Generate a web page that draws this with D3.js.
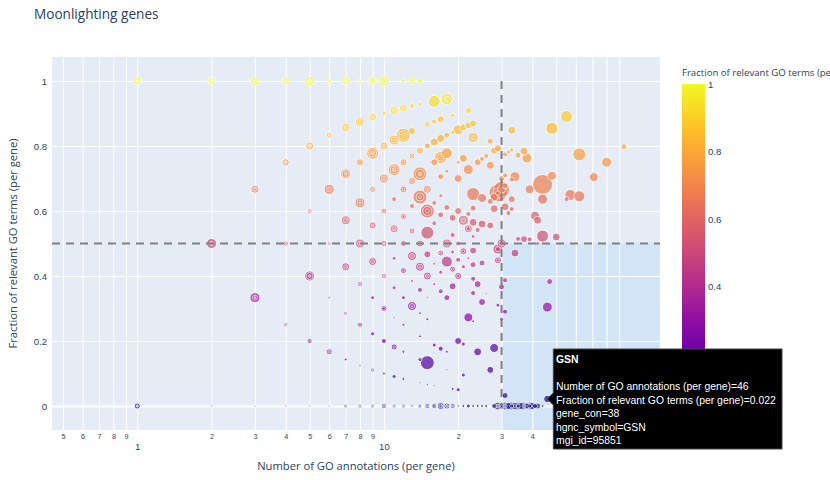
<!DOCTYPE html>
<html>
<head>
<meta charset="utf-8">
<script src="https://cdn.jsdelivr.net/npm/d3@7"></script>
<style>
    body { margin: 0; background: #fff; }
    svg { display: block; font-family: "Open Sans", verdana, arial, sans-serif; }
</style>
</head>
<body>
<svg id="chart"></svg>
<script>
// genes as [GO annotations, relevant GO terms, gene_con]
const topRow = [
    [1,1,43],[1,1,11],[1,1,3],[1,1,1],
    [2,2,43],[2,2,17],[2,2,4],[2,2,1],
    [3,3,55],[3,3,24],[3,3,6],[3,3,1],
    [4,4,43],[4,4,17],[4,4,4],[4,4,1],
    [5,5,55],[5,5,17],[5,5,4],[5,5,1],
    [6,6,24],[6,6,6],[6,6,1],
    [7,7,43],[7,7,11],[7,7,3],
    [8,8,11],[8,8,3],
    [9,9,43],[9,9,17],[9,9,4],
    [10,10,68],[10,10,24],[10,10,6],
    [12,12,11],
    [13,13,33],[13,13,6],
    [14,14,17]
];

const zeroRow = [
    [1,0,24],[1,0,3],[1,0,2],[1,0,1],
    [2,0,3],[2,0,2],[2,0,1],
    [3,0,3],[3,0,2],[3,0,1],
    [4,0,3],[4,0,2],[4,0,1],
    [5,0,3],[5,0,2],[5,0,1],
    [6,0,3],[6,0,2],[6,0,1],
    [7,0,11],[7,0,3],[7,0,1],
    [8,0,11],[8,0,3],[8,0,1],
    [9,0,11],[9,0,3],[9,0,1],
    [10,0,17],[10,0,4],[10,0,1],
    [11,0,11],[11,0,3],[11,0,1],
    [12,0,11],[12,0,3],[12,0,1],
    [13,0,6],[13,0,2],
    [14,0,11],[14,0,3],
    [15,0,17],[15,0,4],[15,0,1],
    [16,0,17],[16,0,4],
    [17,0,33],[17,0,11],[17,0,3],
    [18,0,24],[18,0,6],[18,0,2],
    [19,0,17],[19,0,4],[19,0,1],
    [20,0,4],[21,0,6],[22,0,11],[23,0,6],[24,0,6],[25,0,6],[26,0,6],
    [28,0,17],
    [29,0,43],[29,0,11],[29,0,3],
    [30,0,24],[30,0,6],
    [31,0,43],[31,0,11],[31,0,3],
    [32,0,33],
    [33,0,43],[33,0,11],
    [34,0,33],[34,0,6],
    [35,0,43],[35,0,11],
    [36,0,33],
    [37,0,43],[37,0,11],[37,0,3],
    [38,0,24],
    [39,0,43],[39,0,11],
    [40,0,33],[41,0,17],[42,0,24],[44,0,6]
];

const lowN = [
    [2,1,68],[2,1,11],[2,1,3],[2,1,1],
    [3,2,43],[3,2,11],[3,2,2],
    [3,1,68],[3,1,17],[3,1,3],[3,1,1],
    [4,3,33],[4,3,6],[4,3,2],[4,3,1],
    [4,2,17],[4,2,3],[4,2,1],
    [4,1,11],[4,1,2],[4,1,1],
    [5,4,43],[5,4,11],[5,4,3],[5,4,1],
    [5,3,17],[5,3,3],[5,3,1],
    [5,2,68],[5,2,33],[5,2,6],[5,2,2],
    [5,1,17],[5,1,3],
    [6,5,24],[6,5,4],[6,5,1],
    [6,4,68],[6,4,17],[6,4,3],
    [6,3,11],[6,3,2],[6,3,1],
    [6,2,6],[6,2,1],
    [6,1,24],[6,1,6],[6,1,1],
    [7,6,43],[7,6,11],[7,6,2],[7,6,1],
    [7,5,68],[7,5,33],[7,5,6],[7,5,2],
    [7,4,55],[7,4,17],[7,4,3],
    [7,3,43],[7,3,11],[7,3,2],
    [7,2,11],[7,2,2],[7,2,1],
    [7,1,6],
    [8,7,55],[8,7,17],[8,7,3],
    [8,6,33],[8,6,6],
    [8,5,68],[8,5,24],[8,5,4],[8,5,1],
    [8,4,55],[8,4,17],[8,4,3],[8,4,1],
    [8,3,17],[8,3,3],[8,3,1],
    [8,2,17],[8,2,3],
    [8,1,3],
    [9,8,43],[9,8,11],[9,8,2],
    [9,7,97],[9,7,43],[9,7,11],[9,7,2],
    [9,6,24],[9,6,4],[9,6,1],
    [9,5,33],[9,5,6],[9,5,1],
    [9,4,43],[9,4,11],[9,4,2],
    [9,3,11],[9,2,11],
    [9,1,11],[9,1,2],[9,1,1],
    [10,9,11],
    [10,8,43],[10,8,11],[10,8,2],
    [10,7,55],[10,7,17],[10,7,3],
    [10,6,24],[10,6,4],
    [10,5,24],[10,5,4],[10,5,1],
    [10,4,17],[10,4,3],[10,4,1],
    [10,3,24],[10,3,6],
    [10,2,17],[10,1,6]
];

const midN = [
    [11,10,43],[11,10,11],[11,10,2],
    [11,9,68],[11,9,24],[11,9,4],
    [11,8,97],[11,8,43],[11,8,11],[11,8,2],
    [11,7,17],
    [11,6,43],[11,6,11],[11,6,2],
    [11,5,11],[11,4,11],[11,3,3],
    [11,2,24],[11,2,4],
    [11,1,11],
    [12,11,43],[12,11,11],[12,11,2],
    [12,10,132],[12,10,55],[12,10,17],[12,10,3],
    [12,9,33],[12,9,6],
    [12,8,33],[12,8,6],
    [12,7,24],[12,7,4],
    [12,6,24],[12,6,4],[12,6,1],
    [12,5,24],[12,5,4],
    [12,4,11],[12,3,6],[12,2,6],[12,1,6],
    [13,12,17],[13,11,33],
    [13,10,24],[13,10,4],
    [13,9,33],[13,9,6],
    [13,8,17],
    [13,7,24],[13,7,4],
    [13,6,55],[13,6,17],[13,6,3],
    [13,5,6],
    [13,4,55],[13,4,17],[13,4,3],
    [14,13,11],
    [14,11,33],[14,11,6],
    [14,10,132],[14,10,55],[14,10,11],[14,10,2],
    [14,9,132],[14,9,43],[14,9,6],
    [14,7,33],[14,7,6],
    [14,6,55],[14,6,17],[14,6,3],
    [14,5,17],[14,4,6],[14,3,6],[14,2,11],[14,1,3],
    [15,13,24],[15,13,4],
    [15,12,24],
    [15,10,43],[15,10,11],[15,10,2],
    [15,9,132],[15,9,55],[15,9,11],
    [15,8,114],[15,7,33],
    [15,6,43],[15,6,11],[15,6,2],
    [15,5,3],[15,4,6],[15,2,132],[15,1,3],
    [16,15,97],[16,14,17],[16,13,43],[16,12,33],[16,10,17],[16,9,17],
    [16,8,6],[16,7,6],[16,6,6],[16,3,11],[16,1,3],
    [17,15,33],[17,14,43],
    [17,13,97],[17,13,33],[17,13,6],
    [17,12,24],[17,11,11],[17,10,24],
    [17,8,24],[17,8,4],
    [17,7,11],[17,6,17],[17,3,17],
    [18,17,82],[18,17,24],[18,17,4],
    [18,15,24],[18,14,82],[18,13,11],[18,11,24],
    [18,9,55],[18,9,17],[18,9,3],
    [18,8,82],[18,6,24],[18,3,6],[18,2,3],
    [19,17,11],[19,16,11],[19,11,33],[19,10,17],[19,9,11],
    [19,8,24],[19,8,4],
    [19,7,33],[19,1,6],
    [20,17,68],[20,15,11],[20,14,43],[20,12,33],[20,10,17],[20,9,17],
    [20,8,33],[20,8,6],
    [20,4,33],[20,1,11],
    [21,18,33],[21,16,43],
    [21,12,68],[21,12,17],[21,12,3],
    [21,10,33],[21,10,6],
    [21,9,11],[21,4,11],[21,2,11],
    [22,20,24],[22,19,33],[22,16,68],[22,13,17],
    [22,12,43],[22,12,11],
    [22,10,6],[22,6,55],
    [23,20,33],
    [23,19,68],[23,19,17],[23,19,3],
    [23,15,114],[23,14,24],[23,13,43],[23,12,11],[23,11,33],[23,10,24],
    [23,9,17],[23,8,17],[23,6,6],
    [24,18,33],[24,13,17],[24,9,33],[24,4,43],
    [25,21,3],[25,19,17],[25,16,55],[25,14,43],[25,11,24],[25,8,33],
    [26,20,17],[26,9,3],
    [27,22,24],[27,20,43],[27,17,24],[27,15,33],[27,3,33],
    [28,22,33],[28,18,43],[28,17,43],[28,16,3],[28,5,55],
    [29,23,33],
    [29,19,219],[29,19,68],[29,19,17],
    [29,14,68],[29,14,17],
    [29,13,33],[29,13,6],
    [29,9,11]
];

const highN = [
    [30,21,24],
    [30,20,173],[30,20,43],
    [30,15,55],[30,15,17],[30,15,3],
    [30,11,24],[30,8,11],
    [31,24,17],[31,22,17],[31,21,24],[31,19,43],[31,12,17],[31,9,17],[31,1,24],
    [32,25,11],[32,19,17],
    [33,28,43],[33,26,11],[33,23,17],[33,21,33],[33,20,17],
    [34,24,68],[34,16,43],
    [35,27,24],[35,18,17],
    [37,29,43],[37,19,33],
    [38,29,68],
    [39,26,55],[39,20,17],
    [41,24,55],
    [42,24,43],[42,21,11],
    [44,30,270],[44,28,68],[44,23,97],
    [46,14,68],[46,1,38],
    [47,18,24],
    [48,41,97],[48,34,55],
    [50,26,43],
    [55,49,97],[55,35,17],
    [57,37,82],
    [62,48,114],[62,40,82],
    [71,50,55],
    [80,60,68],
    [94,75,24]
];

const xMinorTicks = [0.5, 0.6, 0.7, 0.8, 0.9, 2, 3, 4, 5, 6, 7, 8, 9, 20, 30, 40, 50, 60, 70, 80, 90];
const xMajorTicks = [1, 10];
const yTicks = [0, 0.2, 0.4, 0.6, 0.8, 1];
const colorTicks = [0, 0.2, 0.4, 0.6, 0.8, 1];

const hoverTitle = "GSN";
const hoverLines = [
    "Number of GO annotations (per gene)=46",
    "Fraction of relevant GO terms (per gene)=0.022",
    "gene_con=38",
    "hgnc_symbol=GSN",
    "mgi_id=95851"
];

const width = 830, height = 480;
const plot = { left: 52, right: 660, top: 57, bottom: 430 };
const textColor = "#2a3f5f";

const svg = d3.select("#chart")
    .attr("width", width)
    .attr("height", height)
    .attr("viewBox", [0, 0, width, height]);

const x = d3.scaleLog().domain([0.451, 131.7]).range([plot.left, plot.right]);
const y = d3.scaleLinear().domain([-0.0738, 1.0738]).range([plot.bottom, plot.top]);
const diam = d3.scaleSqrt().domain([0, 270]).range([0, 20]);
const color = d3.scaleSequential(d3.interpolatePlasma).domain([0, 1]);

// plot background
svg.append("rect")
    .attr("x", plot.left).attr("y", plot.top)
    .attr("width", plot.right - plot.left)
    .attr("height", plot.bottom - plot.top)
    .attr("fill", "#e5ecf6");

// highlighted region: >= 30 annotations, fraction < 0.5
svg.append("rect")
    .attr("x", x(30)).attr("y", y(0.5))
    .attr("width", plot.right - x(30))
    .attr("height", plot.bottom - y(0.5))
    .attr("fill", "#87cefa")
    .attr("fill-opacity", 0.2);

// x axis with gridlines
const xAxis = svg.append("g")
    .attr("transform", `translate(0, ${plot.bottom})`)
    .call(d3.axisBottom(x)
        .tickValues([...xMinorTicks, ...xMajorTicks])
        .tickSize(-(plot.bottom - plot.top))
        .tickPadding(4)
        .tickFormat(d => xMajorTicks.includes(d)
            ? String(d)
            : String(Math.round(d / Math.pow(10, Math.floor(Math.log10(d)))))));
xAxis.select(".domain").remove();
xAxis.selectAll("line").attr("stroke", "#fff").attr("stroke-width", 1);
xAxis.selectAll("text")
    .attr("fill", textColor)
    .style("font-size", "7.2px");
xAxis.selectAll(".tick")
    .filter(d => xMajorTicks.includes(d))
    .select("text")
        .attr("y", 13)
        .style("font-size", "9.6px");

// y axis with gridlines
const yAxis = svg.append("g")
    .attr("transform", `translate(${plot.left}, 0)`)
    .call(d3.axisLeft(y)
        .tickValues(yTicks)
        .tickSize(-(plot.right - plot.left))
        .tickPadding(5)
        .tickFormat(d3.format("~g")));
yAxis.select(".domain").remove();
yAxis.selectAll("line").attr("stroke", "#fff").attr("stroke-width", 1);
yAxis.selectAll(".tick").filter(d => d === 0).select("line").attr("stroke-width", 2);
yAxis.selectAll("text")
    .attr("fill", textColor)
    .style("font-size", "9.6px");

// bubbles, biggest first so the small ones stay visible
const genes = [...topRow, ...zeroRow, ...lowN, ...midN, ...highN]
    .map(([n, k, geneCon]) => ({ n, k, geneCon, frac: k / n }))
    .sort((a, b) => d3.descending(a.geneCon, b.geneCon));

svg.append("g")
    .selectAll("circle")
    .data(genes)
    .join("circle")
        .attr("cx", d => x(d.n))
        .attr("cy", d => y(d.frac))
        .attr("r", d => diam(d.geneCon) / 2)
        .attr("fill", d => color(d.frac))
        .attr("stroke", "#fff")
        .attr("stroke-width", 1)
        .attr("opacity", 0.7);

// threshold lines
const dash = { stroke: "#808080", width: 2, array: "8,6" };
svg.append("line")
    .attr("x1", plot.left).attr("x2", plot.right)
    .attr("y1", y(0.5)).attr("y2", y(0.5))
    .attr("stroke", dash.stroke).attr("stroke-width", dash.width)
    .attr("stroke-dasharray", dash.array);
svg.append("line")
    .attr("x1", x(30)).attr("x2", x(30))
    .attr("y1", y(1)).attr("y2", y(0))
    .attr("stroke", dash.stroke).attr("stroke-width", dash.width)
    .attr("stroke-dasharray", dash.array);

// titles
svg.append("text")
    .attr("x", 34).attr("y", 19)
    .attr("fill", textColor)
    .style("font-size", "13.6px")
    .text("Moonlighting genes");

svg.append("text")
    .attr("x", (plot.left + plot.right) / 2).attr("y", 470)
    .attr("text-anchor", "middle")
    .attr("fill", textColor)
    .style("font-size", "11.2px")
    .text("Number of GO annotations (per gene)");

svg.append("text")
    .attr("transform", `translate(12, ${(plot.top + plot.bottom) / 2}) rotate(-90)`)
    .attr("text-anchor", "middle")
    .attr("dominant-baseline", "central")
    .attr("fill", textColor)
    .style("font-size", "11.2px")
    .text("Fraction of relevant GO terms (per gene)");

// colorbar
const cb = { x: 682, width: 23, top: 84, bottom: 422 };
const cbScale = d3.scaleLinear().domain([0, 1]).range([cb.bottom, cb.top]);

const grad = svg.append("defs").append("linearGradient")
    .attr("id", "plasma")
    .attr("x1", 0).attr("y1", 1).attr("x2", 0).attr("y2", 0);
grad.selectAll("stop")
    .data(d3.range(0, 1.0001, 0.1))
    .join("stop")
        .attr("offset", d => d)
        .attr("stop-color", d => color(d));

svg.append("rect")
    .attr("x", cb.x).attr("y", cb.top)
    .attr("width", cb.width).attr("height", cb.bottom - cb.top)
    .attr("fill", "url(#plasma)");

const cbAxis = svg.append("g")
    .attr("transform", `translate(${cb.x + cb.width}, 0)`)
    .call(d3.axisRight(cbScale)
        .tickValues(colorTicks)
        .tickSize(0)
        .tickPadding(3)
        .tickFormat(d3.format("~g")));
cbAxis.select(".domain").remove();
cbAxis.selectAll("text")
    .attr("fill", textColor)
    .style("font-size", "9.6px");

svg.append("text")
    .attr("x", cb.x).attr("y", 72)
    .attr("dominant-baseline", "central")
    .attr("fill", textColor)
    .style("font-size", "9.6px")
    .text("Fraction of relevant GO terms (per gene)");

// hover label for GSN
const hx = x(46), hy = y(1 / 46);
const hover = svg.append("g").style("font-family", "Arial, 'Liberation Sans', sans-serif");
hover.append("path")
    .attr("d", `M${hx},${hy} L${hx + 6},${hy - 6} L${hx + 6},349 L782,349 L782,449 L${hx + 6},449 L${hx + 6},${hy + 6} Z`)
    .attr("fill", "#000")
    .attr("stroke", "#444")
    .attr("stroke-width", 1);
hover.append("text")
    .attr("x", 556).attr("y", 363)
    .attr("fill", "#fff")
    .style("font-size", "10.4px")
    .style("font-weight", "bold")
    .text(hoverTitle);
hover.selectAll("text.line")
    .data(hoverLines)
    .join("text")
        .attr("class", "line")
        .attr("x", 556)
        .attr("y", (d, i) => 390 + i * 13.5)
        .attr("fill", "#fff")
        .style("font-size", "10.4px")
        .text(d => d);
</script>
</body>
</html>
